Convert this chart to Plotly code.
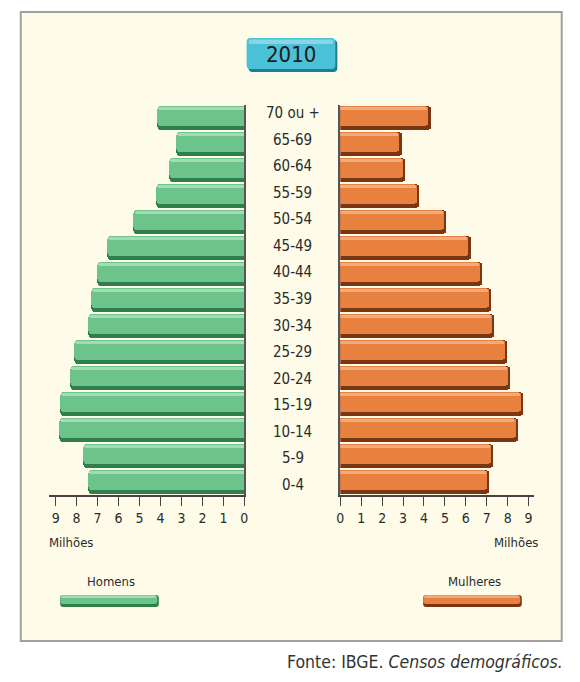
import plotly.graph_objects as go

# ---------------- data ----------------
age_groups = ["0-4", "5-9", "10-14", "15-19", "20-24", "25-29", "30-34", "35-39",
              "40-44", "45-49", "50-54", "55-59", "60-64", "65-69", "70 ou +"]
homens = [7.43, 7.70, 8.82, 8.79, 8.32, 8.13, 7.43, 7.30,
          6.99, 6.52, 5.27, 4.20, 3.59, 3.23, 4.17]
mulheres = [7.14, 7.31, 8.49, 8.76, 8.13, 8.00, 7.37, 7.23,
            6.79, 6.24, 5.09, 3.76, 3.13, 2.94, 4.33]
tick_vals = [0, 1, 2, 3, 4, 5, 6, 7, 8, 9]
title_text = "2010"
unit_label = "Milhões"
legend_labels = ["Homens", "Mulheres"]
source_text = "Fonte: IBGE. <i>Censos demográficos.</i>"

W, H = 580, 682
FONT = "Liberation Sans Narrow, Arial Narrow, DejaVu Sans Condensed, sans-serif"
TXT = "#2b2b2b"


def px(x):
    return x / W


def py(y):
    return 1 - y / H


G_DARK, G_MAIN, G_LIGHT = "#2f7f4c", "#6cc48a", "#b0e2c0"
O_DARK, O_MAIN, O_LIGHT = "#7a3612", "#e8803f", "#f4b590"

fig = go.Figure()


def add_side(values, xa, ya, dark, main, light, trim):
    fig.add_trace(go.Bar(y=age_groups, x=values, orientation="h", xaxis=xa, yaxis=ya,
                         width=0.92, offset=-0.46, marker=dict(color=dark, cornerradius=4,
                         line=dict(width=0)), hoverinfo="skip", showlegend=False))
    fig.add_trace(go.Bar(y=age_groups, x=[v - trim for v in values], orientation="h",
                         xaxis=xa, yaxis=ya, width=0.76, offset=-0.31,
                         marker=dict(color=main, cornerradius=4, line=dict(width=0)),
                         hoverinfo="skip", showlegend=False))
    fig.add_trace(go.Bar(y=age_groups, x=[v - trim - 0.05 for v in values], orientation="h",
                         xaxis=xa, yaxis=ya, width=0.14, offset=0.29,
                         marker=dict(color=light, opacity=0.8, cornerradius=3,
                                     line=dict(width=0)),
                         hoverinfo="skip", showlegend=False))


add_side(homens, "x", "y", G_DARK, G_MAIN, G_LIGHT, 0.0)
add_side(mulheres, "x2", "y2", O_DARK, O_MAIN, O_LIGHT, 0.1)

ydom = [py(495), py(105)]
axis_common = dict(showline=True, linecolor="#444", linewidth=1.5, ticks="outside",
                   ticklen=9, tickwidth=1.3, tickcolor="#444", tickvals=tick_vals,
                   showgrid=False, zeroline=False,
                   tickfont=dict(family=FONT, size=14, color=TXT), fixedrange=True)

fig.update_layout(
    width=W, height=H, margin=dict(l=0, r=0, t=0, b=0),
    paper_bgcolor="white", plot_bgcolor="rgba(0,0,0,0)",
    barmode="overlay", bargap=0, showlegend=False,
    xaxis=dict(domain=[px(46), px(243.7)], range=[9.30, 0], anchor="y", **axis_common),
    xaxis2=dict(domain=[px(341), px(537)], range=[0, 9.24], anchor="y2", **axis_common),
    yaxis=dict(domain=ydom, anchor="x", side="right", showline=True, linecolor="#555",
               linewidth=2, showticklabels=False, ticks="", showgrid=False,
               categoryorder="array", categoryarray=age_groups, fixedrange=True),
    yaxis2=dict(domain=ydom, anchor="x2", side="left", showline=True, linecolor="#555",
                linewidth=2, showticklabels=False, ticks="", showgrid=False,
                categoryorder="array", categoryarray=age_groups, matches="y",
                fixedrange=True),
    # hidden axis used only to place the age-group labels (slightly different spacing)
    yaxis3=dict(domain=[py(498.3), py(99.7)], anchor="free", position=0.5,
                visible=False, type="category", categoryorder="array",
                categoryarray=age_groups, range=[-0.5, len(age_groups) - 0.5],
                fixedrange=True),
)

shapes = []
shapes.append(dict(type="rect", xref="paper", yref="paper", x0=px(17), x1=px(565.5),
                   y0=py(641), y1=py(12), fillcolor="#fefce9",
                   line=dict(color="#a0a0a0", width=2), layer="below"))


def rounded(x0, y0, x1, y1, r):
    return (f"M {px(x0 + r)},{py(y0)} L {px(x1 - r)},{py(y0)} Q {px(x1)},{py(y0)} {px(x1)},{py(y0 + r)} "
            f"L {px(x1)},{py(y1 - r)} Q {px(x1)},{py(y1)} {px(x1 - r)},{py(y1)} "
            f"L {px(x0 + r)},{py(y1)} Q {px(x0)},{py(y1)} {px(x0)},{py(y1 - r)} "
            f"L {px(x0)},{py(y0 + r)} Q {px(x0)},{py(y0)} {px(x0 + r)},{py(y0)} Z")


shapes.append(dict(type="path", xref="paper", yref="paper", path=rounded(248, 40, 338, 72, 4),
                   fillcolor="#1f7d90", line=dict(width=0), layer="below"))
shapes.append(dict(type="path", xref="paper", yref="paper", path=rounded(246, 38, 336, 69, 4),
                   fillcolor="#4bc1d7", line=dict(width=0), layer="below"))
shapes.append(dict(type="path", xref="paper", yref="paper", path=rounded(248, 39.5, 334, 44, 2),
                   fillcolor="#93dcea", opacity=0.8, line=dict(width=0), layer="below"))

for (x0, x1, dark, main, light) in [(57, 157, G_DARK, G_MAIN, G_LIGHT),
                                    (425, 525, O_DARK, O_MAIN, O_LIGHT)]:
    shapes.append(dict(type="path", xref="paper", yref="paper", path=rounded(x0, 595, x1, 607, 3),
                       fillcolor=dark, line=dict(width=0)))
    shapes.append(dict(type="path", xref="paper", yref="paper", path=rounded(x0, 595, x1 - 1.5, 604, 3),
                       fillcolor=main, line=dict(width=0)))
    shapes.append(dict(type="path", xref="paper", yref="paper", path=rounded(x0 + 1, 595.5, x1 - 3, 598, 1),
                       fillcolor=light, opacity=0.8, line=dict(width=0)))
fig.update_layout(shapes=shapes)

ann = []
ann.append(dict(xref="paper", yref="paper", x=px(291), y=py(54.5), text=title_text,
                showarrow=False, xanchor="center", yanchor="middle",
                font=dict(family=FONT, size=22, color="#1a1a1a")))
for g in age_groups:
    ann.append(dict(xref="paper", yref="y3", x=px(293), y=g, text=g, showarrow=False,
                    xanchor="center", yanchor="middle",
                    font=dict(family=FONT, size=15, color=TXT)))
ann.append(dict(xref="paper", yref="paper", x=px(44), y=py(542), text=unit_label,
                showarrow=False, xanchor="left", yanchor="middle",
                font=dict(family=FONT, size=13, color=TXT)))
ann.append(dict(xref="paper", yref="paper", x=px(543), y=py(542), text=unit_label,
                showarrow=False, xanchor="right", yanchor="middle",
                font=dict(family=FONT, size=13, color=TXT)))
ann.append(dict(xref="paper", yref="paper", x=px(109), y=py(581), text=legend_labels[0],
                showarrow=False, xanchor="center", yanchor="middle",
                font=dict(family=FONT, size=13, color=TXT)))
ann.append(dict(xref="paper", yref="paper", x=px(477), y=py(581), text=legend_labels[1],
                showarrow=False, xanchor="center", yanchor="middle",
                font=dict(family=FONT, size=13, color=TXT)))
ann.append(dict(xref="paper", yref="paper", x=px(569), y=py(662), text=source_text,
                showarrow=False, xanchor="right", yanchor="middle",
                font=dict(family=FONT, size=17.5, color="#333")))
fig.update_layout(annotations=ann)

fig.write_html("out.html", config={"displayModeBar": False},
               post_script="document.body.style.margin='0';document.body.style.overflow='hidden';")
